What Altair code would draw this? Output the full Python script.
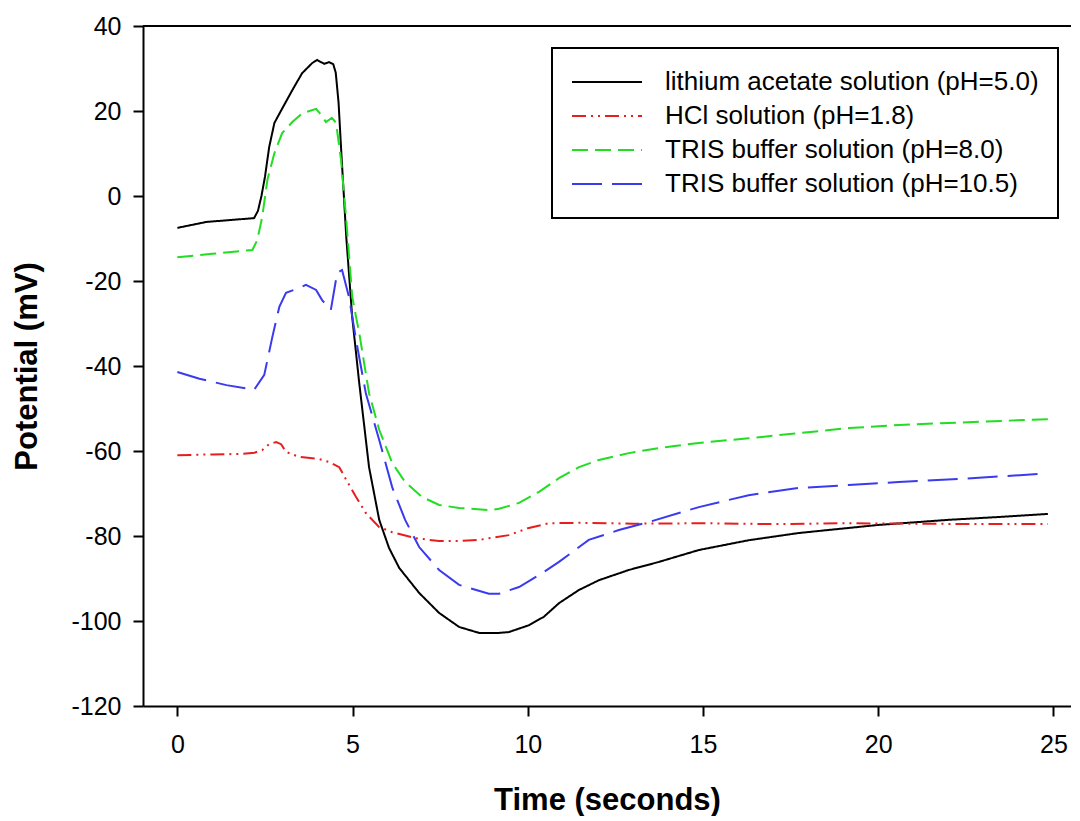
import altair as alt
import pandas as pd

# ---- data ----
series_names = [
    "lithium acetate solution (pH=5.0)",
    "HCl solution (pH=1.8)",
    "TRIS buffer solution (pH=8.0)",
    "TRIS buffer solution (pH=10.5)",
]
series_colors = ["#000000", "#e61e1e", "#22dd22", "#3a3aee"]
series_dashes = [[1, 0], [14, 5, 2, 5, 2, 5], [16, 7], [30, 10]]

li_t = [0, 0.83, 1.6, 2.19, 2.3, 2.4, 2.5, 2.62, 2.77, 3.0, 3.28, 3.56, 3.85, 3.99, 4.1,
        4.19, 4.33, 4.45, 4.52, 4.6, 4.68, 4.82, 4.99, 5.19, 5.47, 5.76, 6.04, 6.33, 6.9,
        7.47, 8.04, 8.61, 9.18, 9.46, 10.03, 10.46, 10.89, 11.46, 12.03, 12.88, 13.74,
        14.88, 16.3, 17.73, 19.16, 20.0, 22.0, 23.5, 24.84]
li_v = [-7.5, -6.1, -5.6, -5.2, -3.5, 0, 4.5, 11.5, 17.2, 20.7, 24.9, 28.9, 31.3, 32, 31.5,
        31.1, 31.5, 31, 29, 22, 10.1, -9.6, -28.5, -44, -63.8, -76.2, -82.8, -87.5, -93.4,
        -98.1, -101.4, -102.8, -102.8, -102.6, -101, -99, -95.8, -92.7, -90.4, -88, -86.1,
        -83.3, -81, -79.3, -78.1, -77.4, -76.2, -75.5, -74.8]

hcl_t = [0, 1.0, 1.77, 2.2, 2.42, 2.62, 2.82, 2.96, 3.1, 3.48, 4.05, 4.33, 4.62, 4.82, 5.1,
         5.38, 5.76, 6.13, 6.8, 7.47, 8.04, 8.61, 9.46, 10.03, 10.6, 11.5, 13, 15, 17, 19,
         21, 23, 24.84]
hcl_v = [-61, -60.8, -60.7, -60.4, -59.8, -58.4, -57.9, -58.4, -60.2, -61.4, -61.9, -62.6,
         -63.8, -66.8, -70.8, -74.6, -77.9, -79.1, -80.5, -81.2, -81.2, -80.9, -79.8, -78.1,
         -77, -76.9, -77.1, -77, -77.2, -77, -77.1, -77.2, -77.2]

tris8_t = [0, 1.0, 2.14, 2.28, 2.42, 2.57, 2.77, 2.99, 3.28, 3.57, 3.96, 4.1, 4.24, 4.41,
           4.53, 4.67, 4.82, 4.99, 5.1, 5.19, 5.47, 5.76, 6.13, 6.5, 6.98, 7.47, 8.04, 8.89,
           9.18, 9.75, 10.32, 10.89, 11.46, 12.03, 12.88, 13.74, 14.88, 16.3, 17.73, 19.16,
           20.58, 22.0, 24.84]
tris8_v = [-14.4, -13.6, -12.7, -10.4, -5, 3.8, 10.1, 14.8, 17.4, 19.5, 20.5, 19.1, 17.4,
           18.4, 17.2, 8.5, -5.6, -23.7, -28.5, -32.2, -46.4, -55, -62.8, -67.3, -70.8,
           -72.7, -73.4, -73.9, -73.6, -72.2, -69.6, -66.4, -63.8, -62.1, -60.5, -59.3,
           -58.1, -57, -55.8, -54.6, -53.9, -53.4, -52.5]

tris10_t = [0, 0.63, 1.4, 2.19, 2.48, 2.71, 2.91, 3.1, 3.48, 3.67, 3.96, 4.13, 4.38, 4.56,
            4.7, 4.9, 5.1, 5.38, 5.76, 6.13, 6.5, 6.9, 7.47, 8.04, 8.89, 9.18, 9.75, 10.32,
            10.89, 11.74, 12.6, 13.46, 14.31, 14.88, 16.3, 17.73, 19.16, 20.58, 22.5, 24.6]
tris10_v = [-41.4, -43, -44.5, -45.6, -42.1, -33.2, -26.1, -22.8, -21.6, -20.9, -22.1,
            -24.5, -26.8, -18.1, -17.4, -23.8, -33.9, -46.5, -57.4, -68.5, -76.2, -82.6,
            -88, -91.5, -93.6, -93.6, -92, -89.2, -86.1, -80.9, -78.6, -76.7, -74.6, -73.2,
            -70.4, -68.7, -68, -67.3, -66.5, -65.4]

x_ticks = [0, 5, 10, 15, 20, 25]
y_ticks = [-120, -100, -80, -60, -40, -20, 0, 20, 40]

# ---- build table ----
frames = []
for name, t, v in zip(series_names, [li_t, hcl_t, tris8_t, tris10_t],
                      [li_v, hcl_v, tris8_v, tris10_v]):
    frames.append(pd.DataFrame({"t": t, "v": v, "series": name, "order": range(len(t))}))
df = pd.concat(frames, ignore_index=True)

FONT = "Liberation Sans"

lines = alt.Chart(df).mark_line(strokeWidth=2).encode(
    x=alt.X("t:Q", scale=alt.Scale(domain=[-0.98, 25.5], nice=False, zero=False),
            axis=alt.Axis(values=x_ticks, title="Time (seconds)", grid=False,
                          labelExpr="'' + datum.value")),
    y=alt.Y("v:Q", scale=alt.Scale(domain=[-120, 40], nice=False, zero=False),
            axis=alt.Axis(values=y_ticks, title="Potential (mV)", grid=False,
                          labelExpr="'' + datum.value")),
    color=alt.Color("series:N", scale=alt.Scale(domain=series_names, range=series_colors),
                    legend=alt.Legend(title=None)),
    strokeDash=alt.StrokeDash("series:N", scale=alt.Scale(domain=series_names, range=series_dashes),
                              legend=alt.Legend(title=None)),
    order="order:Q",
)

top_border = alt.Chart(pd.DataFrame({"v": [40]})).mark_rule(color="black", strokeWidth=2).encode(
    y=alt.Y("v:Q")
)

chart = alt.layer(lines, top_border).properties(
    width=928, height=680,
    autosize=alt.AutoSizeParams(type="none"),
    padding={"left": 135, "top": 18, "right": 0, "bottom": 110},
).configure_view(stroke=None).configure_axis(
    labelFont=FONT, titleFont=FONT, labelFontSize=25, titleFontSize=31,
    titleFontWeight="bold", labelColor="black", titleColor="black",
    domainColor="black", domainWidth=2, tickColor="black", tickWidth=2, tickSize=10,
    labelPadding=12,
).configure_axisX(titlePadding=28, labelPadding=16).configure_axisY(titlePadding=27).configure_legend(
    orient="none", legendX=409, legendY=22, strokeColor="black", strokeWidth=2,
    fillColor="white", padding=19, labelFont=FONT, labelFontSize=26, labelColor="black",
    symbolType="stroke", symbolSize=4900, symbolStrokeWidth=2, labelOffset=22,
    labelLimit=600, clipHeight=30, rowPadding=4,
)

chart.save("out.html", embed_options={"renderer": "svg", "actions": False})
